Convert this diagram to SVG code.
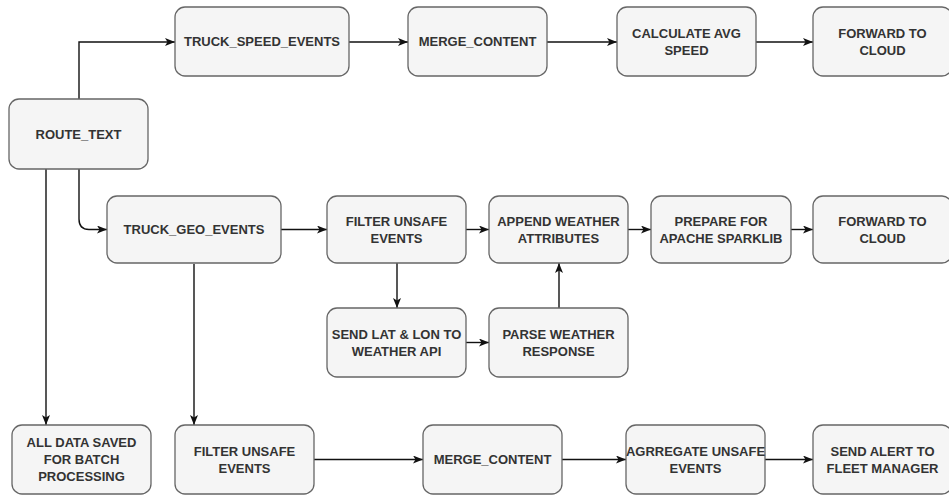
<svg xmlns="http://www.w3.org/2000/svg" width="949" height="495" viewBox="0 0 949 495">
<style>
.box{fill:#f5f5f5;stroke:#666;stroke-width:1.3}
.t{font-family:"Liberation Sans",Arial,sans-serif;font-weight:bold;font-size:13px;fill:#333;text-anchor:middle}
.c{fill:none;stroke:#111;stroke-width:1.4;marker-end:url(#arr)}
</style>
<defs>
<marker id="arr" viewBox="0 0 10 8" refX="10" refY="4" markerWidth="10" markerHeight="8" markerUnits="userSpaceOnUse" orient="auto">
<path d="M0,0 L10,4 L0,8 L2.5,4 z" fill="#111"/>
</marker>
</defs>
<rect width="949" height="495" fill="#fff"/>
<g id="connectors">
<path class="c" d="M79,99 V42 H175"/>
<path class="c" d="M79,169 V219 Q79,229.5 89,229.5 H107"/>
<path class="c" d="M46,169 V425"/>
<path class="c" d="M349,42 H408"/>
<path class="c" d="M547,42 H617"/>
<path class="c" d="M756,42 H813"/>
<path class="c" d="M281,229.5 H327"/>
<path class="c" d="M466,229.5 H489"/>
<path class="c" d="M628,229.5 H651"/>
<path class="c" d="M791,229.5 H813"/>
<path class="c" d="M397,263 V308"/>
<path class="c" d="M466,342.5 H489"/>
<path class="c" d="M559,308 V263"/>
<path class="c" d="M194,264 V425"/>
<path class="c" d="M314,459.5 H423"/>
<path class="c" d="M562,459.5 H626"/>
<path class="c" d="M765,459.5 H813"/>
</g>
<g id="route_text"><rect class="box" x="9" y="99" width="139" height="70" rx="10"/><text class="t" x="78.5" y="138.5">ROUTE_TEXT</text></g>
<g id="truck_speed_events"><rect class="box" x="175" y="7" width="174" height="69" rx="10"/><text class="t" x="262" y="46">TRUCK_SPEED_EVENTS</text></g>
<g id="merge_content_top"><rect class="box" x="408" y="7" width="139" height="69" rx="10"/><text class="t" x="477.5" y="46">MERGE_CONTENT</text></g>
<g id="calc_avg_speed"><rect class="box" x="617" y="7" width="139" height="69" rx="10"/><text class="t" x="686.5" y="37.5">CALCULATE AVG</text><text class="t" x="686.5" y="54.5">SPEED</text></g>
<g id="forward_cloud_top"><rect class="box" x="813" y="7" width="139" height="69" rx="10"/><text class="t" x="882.5" y="37.5">FORWARD TO</text><text class="t" x="882.5" y="54.5">CLOUD</text></g>
<g id="truck_geo_events"><rect class="box" x="107" y="196" width="174" height="67" rx="10"/><text class="t" x="194" y="234">TRUCK_GEO_EVENTS</text></g>
<g id="filter_unsafe_mid"><rect class="box" x="327" y="196" width="139" height="67" rx="10"/><text class="t" x="396.5" y="225.5">FILTER UNSAFE</text><text class="t" x="396.5" y="242.5">EVENTS</text></g>
<g id="append_weather"><rect class="box" x="489" y="196" width="139" height="67" rx="10"/><text class="t" x="558.5" y="225.5">APPEND WEATHER</text><text class="t" x="558.5" y="242.5">ATTRIBUTES</text></g>
<g id="prepare_spark"><rect class="box" x="651" y="196" width="140" height="67" rx="10"/><text class="t" x="721" y="225.5">PREPARE FOR</text><text class="t" x="721" y="242.5">APACHE SPARKLIB</text></g>
<g id="forward_cloud_mid"><rect class="box" x="813" y="196" width="139" height="67" rx="10"/><text class="t" x="882.5" y="225.5">FORWARD TO</text><text class="t" x="882.5" y="242.5">CLOUD</text></g>
<g id="send_latlon"><rect class="box" x="327" y="308" width="139" height="69" rx="10"/><text class="t" x="396.5" y="338.5">SEND LAT &amp; LON TO</text><text class="t" x="396.5" y="355.5">WEATHER API</text></g>
<g id="parse_weather"><rect class="box" x="489" y="308" width="139" height="69" rx="10"/><text class="t" x="558.5" y="338.5">PARSE WEATHER</text><text class="t" x="558.5" y="355.5">RESPONSE</text></g>
<g id="all_data_saved"><rect class="box" x="12" y="425" width="139" height="69" rx="10"/><text class="t" x="81.5" y="447">ALL DATA SAVED</text><text class="t" x="81.5" y="464">FOR BATCH</text><text class="t" x="81.5" y="481">PROCESSING</text></g>
<g id="filter_unsafe_bottom"><rect class="box" x="175" y="425" width="139" height="69" rx="10"/><text class="t" x="244.5" y="455.5">FILTER UNSAFE</text><text class="t" x="244.5" y="472.5">EVENTS</text></g>
<g id="merge_content_bottom"><rect class="box" x="423" y="425" width="139" height="69" rx="10"/><text class="t" x="492.5" y="464">MERGE_CONTENT</text></g>
<g id="aggregate_unsafe"><rect class="box" x="626" y="425" width="139" height="69" rx="10"/><text class="t" x="695.5" y="455.5">AGRREGATE UNSAFE</text><text class="t" x="695.5" y="472.5">EVENTS</text></g>
<g id="send_alert"><rect class="box" x="813" y="425" width="139" height="69" rx="10"/><text class="t" x="882.5" y="455.5">SEND ALERT TO</text><text class="t" x="882.5" y="472.5">FLEET MANAGER</text></g>
</svg>
